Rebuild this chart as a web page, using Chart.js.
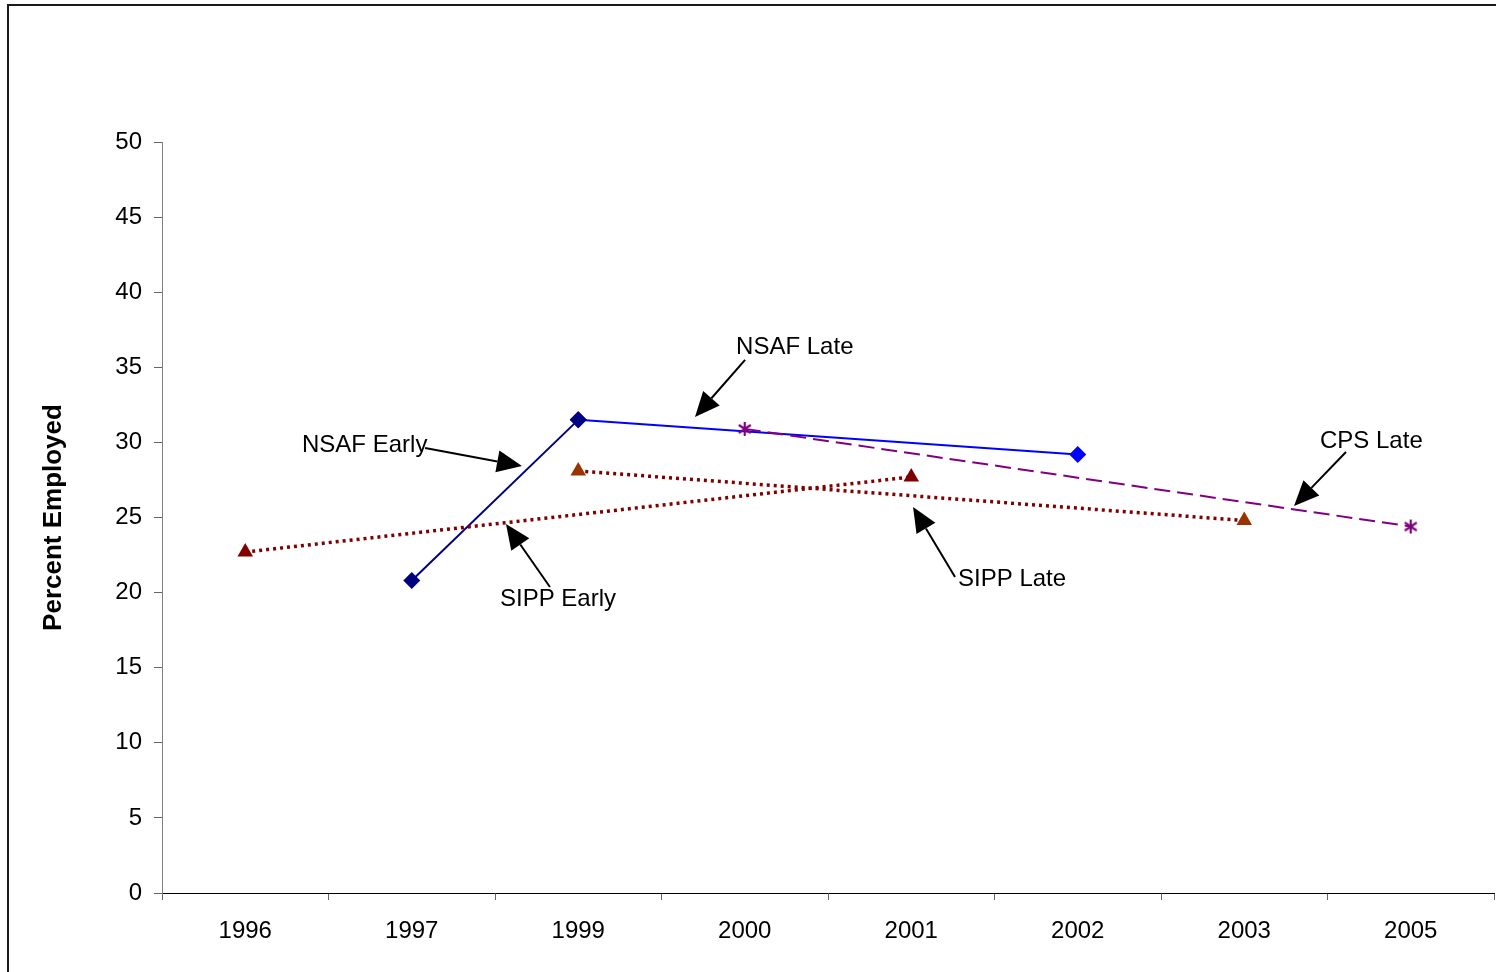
<!DOCTYPE html>
<html>
<head>
<meta charset="utf-8">
<title>Percent Employed by Survey</title>
<script src="https://cdn.jsdelivr.net/npm/chart.js@4.4.1/dist/chart.umd.min.js"></script>
<style>
  html, body { margin: 0; padding: 0; background: #ffffff; overflow: hidden; }
  #wrap { position: relative; width: 1496px; height: 972px; }
  canvas { display: block; }
</style>
</head>
<body>
<div id="wrap"><canvas id="chart"></canvas></div>
<script>
// Survey years on the category axis
const years = ['1996', '1997', '1999', '2000', '2001', '2002', '2003', '2005'];

// Percent employed, one array per survey series (null = no observation that year)
const nsafEarly = [null, 20.8, 31.5, null, null, null, null, null];
const nsafLate  = [null, null, 31.5, null, null, 29.2, null, null];
const sippEarly = [22.7, null, null, null, 27.7, null, null, null];
const sippLate  = [null, null, 28.1, null, null, null, 24.8, null];
const cpsLate   = [null, null, null, 30.9, null, null, null, 24.4];

// Y axis range
const yMin = 0, yMax = 50, yStep = 5;

const FONT = '"Liberation Sans", Arial, Helvetica, sans-serif';

// Six-armed asterisk marker used for the CPS series
function asteriskMarker(color) {
  const c = document.createElement('canvas');
  c.width = 16; c.height = 16;
  const g = c.getContext('2d');
  g.strokeStyle = color;
  g.lineWidth = 2.2;
  g.beginPath();
  g.moveTo(8, 1); g.lineTo(8, 15);
  g.moveTo(2, 4); g.lineTo(14, 12);
  g.moveTo(2, 12); g.lineTo(14, 4);
  g.stroke();
  return c;
}

// Callout labels with arrows, placed in data units (category index, percent)
const callouts = [
  { text: 'NSAF Early', at: [0.341, 29.78], from: [1.080, 29.63], to: [1.662, 28.43] },
  { text: 'NSAF Late',  at: [2.948, 36.30], from: [3.002, 35.49], to: [2.701, 31.69] },
  { text: 'SIPP Early', at: [1.530, 19.52], from: [1.830, 20.37], to: [1.566, 24.57] },
  { text: 'SIPP Late',  at: [4.281, 20.85], from: [4.263, 21.04], to: [4.011, 25.70] },
  { text: 'CPS Late',   at: [6.455, 30.04], from: [6.611, 29.36], to: [6.299, 25.77] }
];

const calloutPlugin = {
  id: 'callouts',
  afterDatasetsDraw(chart) {
    const { ctx, scales: { x, y } } = chart;
    ctx.save();
    ctx.fillStyle = '#000000';
    ctx.strokeStyle = '#000000';
    ctx.font = '24px ' + FONT;
    ctx.textAlign = 'left';
    ctx.textBaseline = 'middle';
    for (const c of callouts) {
      ctx.fillText(c.text, x.getPixelForValue(c.at[0]), y.getPixelForValue(c.at[1]));
      const x1 = x.getPixelForValue(c.from[0]), y1 = y.getPixelForValue(c.from[1]);
      const x2 = x.getPixelForValue(c.to[0]),   y2 = y.getPixelForValue(c.to[1]);
      const ang = Math.atan2(y2 - y1, x2 - x1);
      const headLen = 25, headHalf = 11;
      const bx = x2 - headLen * Math.cos(ang), by = y2 - headLen * Math.sin(ang);
      ctx.lineWidth = 2;
      ctx.beginPath();
      ctx.moveTo(x1, y1);
      ctx.lineTo(bx, by);
      ctx.stroke();
      ctx.beginPath();
      ctx.moveTo(x2, y2);
      ctx.lineTo(bx + headHalf * Math.sin(ang), by - headHalf * Math.cos(ang));
      ctx.lineTo(bx - headHalf * Math.sin(ang), by + headHalf * Math.cos(ang));
      ctx.closePath();
      ctx.fill();
    }
    ctx.restore();
  }
};

// White background and the outer frame of the figure
const framePlugin = {
  id: 'frame',
  beforeDraw(chart) {
    const { ctx, width, height } = chart;
    ctx.save();
    ctx.fillStyle = '#ffffff';
    ctx.fillRect(0, 0, width, height);
    ctx.strokeStyle = '#1a1a1a';
    ctx.lineWidth = 2;
    ctx.strokeRect(8, 5, width + 20, height + 20);
    ctx.restore();
  }
};

const dotted = [3, 4];

new Chart(document.getElementById('chart'), {
  type: 'line',
  data: {
    labels: years,
    datasets: [
      {
        label: 'SIPP Early', data: sippEarly, spanGaps: true,
        borderColor: '#800000', borderWidth: 3.5, borderDash: dotted,
        pointStyle: 'triangle', pointRadius: 9, pointHoverRadius: 9,
        pointBackgroundColor: '#800000', pointBorderColor: '#800000', pointBorderWidth: 0
      },
      {
        label: 'SIPP Late', data: sippLate, spanGaps: true,
        borderColor: '#800000', borderWidth: 3.5, borderDash: dotted,
        pointStyle: 'triangle', pointRadius: 9, pointHoverRadius: 9,
        pointBackgroundColor: '#993300', pointBorderColor: '#993300', pointBorderWidth: 0
      },
      {
        label: 'CPS Late', data: cpsLate, spanGaps: true,
        borderColor: '#800080', borderWidth: 2, borderDash: [16, 7],
        pointStyle: asteriskMarker('#800080'), pointRadius: 8
      },
      {
        label: 'NSAF Early', data: nsafEarly, spanGaps: true,
        borderColor: '#000080', borderWidth: 2,
        pointStyle: 'rectRot', pointRadius: 8.5, pointHoverRadius: 8.5,
        pointBackgroundColor: '#000080', pointBorderColor: '#000080', pointBorderWidth: 0
      },
      {
        label: 'NSAF Late', data: nsafLate, spanGaps: true,
        borderColor: '#0000ff', borderWidth: 2,
        pointStyle: 'rectRot', pointRadius: 8.5, pointHoverRadius: 8.5,
        pointBackgroundColor: '#0000ff', pointBorderColor: '#0000ff', pointBorderWidth: 0
      }
    ]
  },
  options: {
    responsive: true,
    maintainAspectRatio: false,
    animation: false,
    layout: { autoPadding: false, padding: { top: 142, right: 2, left: 0, bottom: 0 } },
    plugins: {
      legend: { display: false },
      tooltip: { enabled: false }
    },
    elements: { line: { tension: 0 } },
    scales: {
      x: {
        type: 'category',
        offset: true,
        afterFit(scale) { scale.height = 79; },
        border: { display: true, color: '#000000', width: 1 },
        grid: {
          display: true, offset: true, drawOnChartArea: false, drawTicks: true,
          tickLength: 7, color: '#666666'
        },
        ticks: {
          color: '#000000', padding: 17, maxRotation: 0, autoSkip: false,
          font: { family: FONT, size: 24 }
        }
      },
      y: {
        min: yMin, max: yMax,
        afterFit(scale) { scale.width = 162; },
        border: { display: true, color: '#808080', width: 1 },
        grid: {
          display: true, drawOnChartArea: false, drawTicks: true,
          tickLength: 8, color: '#666666'
        },
        ticks: {
          stepSize: yStep, color: '#000000', padding: 12,
          font: { family: FONT, size: 24 }
        },
        title: {
          display: true, text: 'Percent Employed', color: '#000000',
          padding: { top: 38, bottom: 0 },
          font: { family: FONT, size: 26, weight: 'bold' }
        }
      }
    }
  },
  plugins: [framePlugin, calloutPlugin]
});
</script>
</body>
</html>
